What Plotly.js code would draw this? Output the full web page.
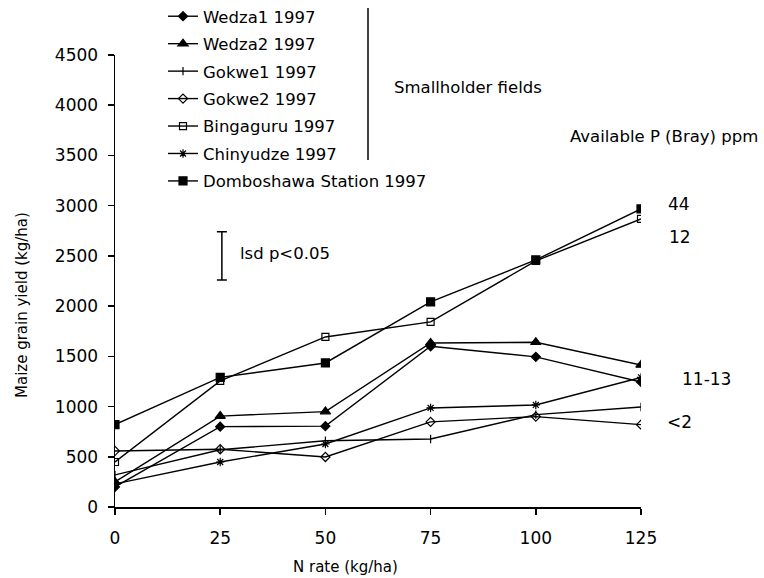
<!DOCTYPE html>
<html><head><meta charset="utf-8">
<script src="https://cdn.plot.ly/plotly-3.0.1.min.js"></script>
<style>html,body{margin:0;padding:0;background:#fff}#chart{width:764px;height:578px}</style>
</head><body><div id="chart"></div>
<script>
// N rate (kg/ha)
const nRate = [0, 25, 50, 75, 100, 125];
// Maize grain yield (kg/ha)
const wedza1 = [200, 800, 805, 1600, 1495, 1245];
const wedza2 = [250, 905, 950, 1633, 1640, 1414];
const gokwe1 = [320, 570, 660, 677, 920, 996];
const gokwe2 = [558, 575, 498, 847, 900, 820];
const bingaguru = [448, 1255, 1693, 1843, 2450, 2868];
const chinyudze = [230, 448, 627, 986, 1016, 1290];
const domboshawa = [820, 1290, 1434, 2042, 2460, 2968];
const seriesNames = ["Wedza1 1997", "Wedza2 1997", "Gokwe1 1997", "Gokwe2 1997", "Bingaguru 1997", "Chinyudze 1997", "Domboshawa Station 1997"];
const yTicks = [0, 500, 1000, 1500, 2000, 2500, 3000, 3500, 4000, 4500];
const xTicks = [0, 25, 50, 75, 100, 125];
// lsd bar
const lsdX = [25.4];
const lsdY = [2500];
const lsdHalf = [240];
// P labels
const pLabels = ["44", "12", "11-13", "<2"];

const FONT = "DejaVu Sans, Arial, sans-serif";
const data = [wedza1, wedza2, gokwe1, gokwe2, bingaguru, chinyudze, domboshawa];
const markers = [
  {symbol: "diamond", size: 7},
  {symbol: "triangle-up", size: 9},
  {symbol: "line-ns-open", size: 6},
  {symbol: "diamond-open", size: 7},
  {symbol: "square-open", size: 7},
  {symbol: "asterisk-open", size: 7},
  {symbol: "square", size: 8}
];
const traces = data.map((ys, i) => ({
  x: nRate, y: ys, name: seriesNames[i], type: "scatter", mode: "lines+markers",
  legendgroup: "g" + i,
  line: {color: "#000", width: 1.4},
  marker: {color: "#000", symbol: markers[i].symbol, size: markers[i].size, line: {color: "#000", width: 1.2}}
}));
traces.push({
  x: lsdX, y: lsdY, type: "scatter", mode: "markers", showlegend: false, hoverinfo: "skip",
  marker: {size: 1, color: "rgba(0,0,0,0)"},
  error_y: {type: "data", array: lsdHalf, visible: true, color: "#000", thickness: 1.5, width: 5}
});

const L = 115, R = 641, T = 55, B = 507;
const px = v => (v - L) / (R - L);
const py = v => (B - v) / (B - T);

const ann = (text, x, y, opts) => Object.assign({
  text: text, xref: "paper", yref: "paper", x: px(x), y: py(y), showarrow: false,
  xanchor: "left", yanchor: "middle", font: {family: FONT, size: 16.5, color: "#000"}
}, opts || {});

const layout = {
  width: 764, height: 578,
  margin: {l: L, r: 764 - R, t: T, b: 578 - B, autoexpand: false},
  paper_bgcolor: "#fff", plot_bgcolor: "#fff",
  font: {family: FONT, size: 16, color: "#000"},
  showlegend: true,
  legend: {x: px(163), y: py(-1), xanchor: "left", yanchor: "top", bgcolor: "rgba(0,0,0,0)",
    font: {family: FONT, size: 16.5, color: "#000"}, tracegroupgap: 3, traceorder: "grouped"},
  xaxis: {range: [0, 125], tickvals: xTicks, ticks: "outside", ticklen: 6, tickcolor: "#000", tickwidth: 1.5,
    showline: true, linecolor: "#000", linewidth: 1.5, showgrid: false, zeroline: false,
    ticklabelstandoff: 9, tickfont: {family: FONT, size: 17, color: "#000"}},
  yaxis: {range: [0, 4500], tickvals: yTicks, ticks: "outside", ticklen: 6, tickcolor: "#000", tickwidth: 1.5,
    showline: true, linecolor: "#000", linewidth: 1.5, showgrid: false, zeroline: false,
    ticklabelstandoff: 6, tickfont: {family: FONT, size: 17, color: "#000"}},
  shapes: [
    {type: "line", xref: "paper", yref: "paper", x0: px(368), x1: px(368), y0: py(160), y1: py(8),
      line: {color: "#000", width: 1.5}}
  ],
  annotations: [
    ann("N rate (kg/ha)", 345, 567, {xanchor: "center", font: {family: FONT, size: 15, color: "#000"}}),
    ann("Maize grain yield (kg/ha)", 22, 305, {xanchor: "center", textangle: -90, font: {family: FONT, size: 15, color: "#000"}}),
    ann("Smallholder fields", 392, 88),
    ann("Available P (Bray) ppm", 568, 137),
    ann("lsd p<0.05", 238, 253),
    ann(pLabels[0], 666, 204, {font: {family: FONT, size: 17, color: "#000"}}),
    ann(pLabels[1], 667, 237, {font: {family: FONT, size: 17, color: "#000"}}),
    ann(pLabels[2], 680, 379, {font: {family: FONT, size: 17, color: "#000"}}),
    ann(pLabels[3], 665, 422, {font: {family: FONT, size: 17, color: "#000"}})
  ]
};
Plotly.newPlot("chart", traces, layout, {displayModeBar: false, staticPlot: true});
</script></body></html>
